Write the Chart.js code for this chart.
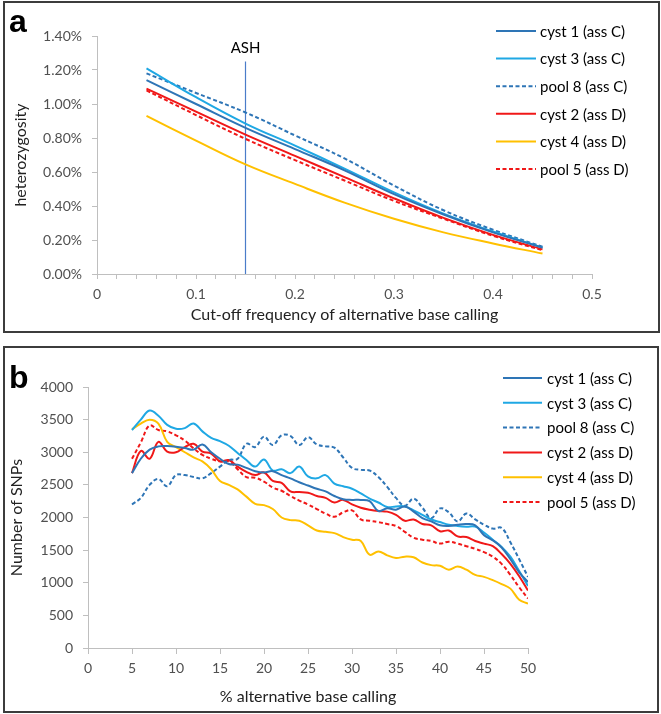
<!DOCTYPE html>
<html>
<head>
<meta charset="utf-8">
<script src="https://cdn.jsdelivr.net/npm/chart.js@4.4.0/dist/chart.umd.min.js"></script>
<style>
  body { margin: 0; background: #fff; width: 661px; height: 714px; overflow: hidden; font-family: Lato, sans-serif; }
  .panel { position: absolute; border: 2px solid #3c3c3c; box-sizing: border-box; }
  #boxA { left: 3px; top: 1px; width: 657px; height: 332px; }
  #boxB { left: 3px; top: 346px; width: 656px; height: 367px; }
  .wrap { position: absolute; left: 0; width: 661px; }
  .tag { position: absolute; font: bold 32px "Liberation Sans", Arial, sans-serif; line-height: 32px; color: #000; }
</style>
</head>
<body>
<div class="panel" id="boxA"></div>
<div class="panel" id="boxB"></div>
<div class="wrap" style="top:0;height:340px"><canvas id="chartA"></canvas></div>
<div class="wrap" style="top:340px;height:374px"><canvas id="chartB"></canvas></div>
<div class="tag" style="left:9px;top:5px">a</div>
<div class="tag" style="left:9px;top:361px">b</div>

<script>
// ---- panel a: heterozygosity vs cut-off frequency ----
const CUTOFF = [0.05, 0.1, 0.15, 0.2, 0.25, 0.3, 0.35, 0.4, 0.45];
const HET_CYST1 = [1.14, 1.00, 0.86, 0.735, 0.61, 0.47, 0.35, 0.245, 0.155];
const HET_CYST3 = [1.21, 1.04, 0.885, 0.755, 0.62, 0.48, 0.355, 0.25, 0.155];
const HET_POOL8 = [1.18, 1.065, 0.95, 0.815, 0.68, 0.52, 0.375, 0.26, 0.16];
const HET_CYST2 = [1.09, 0.955, 0.82, 0.695, 0.57, 0.445, 0.33, 0.23, 0.145];
const HET_CYST4 = [0.93, 0.785, 0.645, 0.53, 0.42, 0.325, 0.245, 0.18, 0.12];
const HET_POOL5 = [1.08, 0.935, 0.795, 0.67, 0.55, 0.43, 0.325, 0.225, 0.14];
const ASH_X = 0.15, ASH_TOP = 1.25, ASH_LABEL_Y = 1.33;

// ---- panel b: number of SNPs vs % alternative base calling ----
const ALT_PCT = [5, 6, 7, 8, 9, 10, 11, 12, 13, 14, 15, 16, 17, 18, 19, 20, 21, 22, 23, 24, 25, 26, 27,
                 28, 29, 30, 31, 32, 33, 34, 35, 36, 37, 38, 39, 40, 41, 42, 43, 44, 45, 46, 47, 48, 49, 50];
const SNP_CYST1 = [2680, 2900, 3040, 3090, 3095, 3085, 3065, 3040, 3120, 3000, 2900, 2820, 2810, 2760, 2710, 2690,
                   2710, 2650, 2600, 2540, 2490, 2440, 2400, 2330, 2280, 2270, 2270, 2250, 2100, 2140, 2120, 2170,
                   2090, 1990, 1940, 1880, 1870, 1890, 1900, 1880, 1730, 1650, 1540, 1360, 1160, 1010];
const SNP_CYST3 = [3340, 3500, 3640, 3560, 3420, 3360, 3370, 3440, 3320, 3220, 3170, 3100, 2990, 2880, 2780, 2890,
                   2720, 2740, 2680, 2780, 2630, 2600, 2650, 2520, 2480, 2440, 2370, 2290, 2230, 2160, 2170, 2170,
                   2110, 2040, 1970, 1930, 1890, 1870, 1860, 1860, 1770, 1660, 1550, 1400, 1180, 950];
const SNP_POOL8 = [2200, 2300, 2500, 2590, 2480, 2650, 2650, 2620, 2600, 2680, 2780, 2880, 2900, 3130, 3080, 3240,
                   3110, 3260, 3250, 3110, 3230, 3120, 3090, 3070, 2920, 2760, 2730, 2720, 2620, 2470, 2300, 2180,
                   2290, 2150, 1990, 2140, 2080, 1940, 2060, 1970, 1890, 1830, 1840, 1620, 1360, 1090];
const SNP_CYST2 = [2680, 3020, 2900, 3160, 3010, 3000, 3080, 3130, 3010, 2980, 2860, 2880, 2780, 2700, 2650, 2690,
                   2560, 2530, 2400, 2390, 2380, 2330, 2300, 2230, 2270, 2200, 2150, 2120, 2100, 2090, 2040, 1950,
                   1970, 1900, 1880, 1790, 1800, 1710, 1700, 1640, 1600, 1560, 1440, 1290, 1100, 880];
const SNP_CYST4 = [3350, 3440, 3500, 3440, 3160, 3080, 3000, 2920, 2860, 2740, 2560, 2500, 2430, 2320, 2210, 2190,
                   2130, 2000, 1960, 1950, 1880, 1800, 1780, 1760, 1700, 1660, 1640, 1430, 1480, 1420, 1380, 1400,
                   1390, 1310, 1270, 1260, 1200, 1250, 1200, 1120, 1090, 1040, 980, 910, 740, 680];
const SNP_POOL5 = [2900, 3150, 3410, 3340, 3320, 3260, 3180, 3060, 2960, 2900, 2860, 2860, 2740, 2620, 2610, 2550,
                   2460, 2410, 2330, 2260, 2200, 2130, 2060, 2010, 2080, 2110, 1970, 1950, 1930, 1900, 1870, 1780,
                   1690, 1660, 1640, 1600, 1630, 1600, 1560, 1520, 1470, 1400, 1290, 1120, 930, 760];

const LABELS = ['cyst 1 (ass C)', 'cyst 3 (ass C)', 'pool 8 (ass C)', 'cyst 2 (ass D)', 'cyst 4 (ass D)', 'pool 5 (ass D)'];
const COLORS = ['#2E75B6', '#1FA8E4', '#2E75B6', '#F01818', '#FFC000', '#F01818'];
const DASHED = [false, false, true, false, false, true];

const FONT = 'Lato, sans-serif';
const pts = (xs, ys) => xs.map((x, i) => ({ x, y: ys[i] }));

// legend to the right + free text labels, drawn on top of the chart
const sideLegend = {
    id: 'sideLegend',
    afterDraw(chart, args, o) {
        const ctx = chart.ctx;
        ctx.save();
        ctx.font = o.font;
        ctx.textBaseline = 'middle';
        let y = o.y;
        chart.data.datasets.forEach(ds => {
            if (!ds.label) return;
            ctx.strokeStyle = ds.borderColor;
            ctx.lineWidth = ds.borderWidth;
            ctx.setLineDash(ds.borderDash || []);
            ctx.beginPath();
            ctx.moveTo(o.x, y);
            ctx.lineTo(o.x + o.len, y);
            ctx.stroke();
            ctx.fillStyle = '#000';
            ctx.fillText(ds.label, o.x + o.len + o.gap, y + 1);
            y += o.step;
        });
        if (o.note) {
            ctx.textAlign = 'center';
            ctx.fillStyle = '#000';
            ctx.fillText(o.note.text, chart.scales.x.getPixelForValue(o.note.x), chart.scales.y.getPixelForValue(o.note.y));
        }
        ctx.restore();
    }
};

function series(xs, list) {
    return list.map((ys, i) => ({
        label: LABELS[i],
        data: pts(xs, ys),
        borderColor: COLORS[i],
        borderWidth: 2,
        borderDash: DASHED[i] ? [4, 2.5] : [],
        pointRadius: 0,
        tension: 0.4,
        fill: false
    }));
}

function axis(extra) {
    return Object.assign({
        type: 'linear',
        grid: { drawOnChartArea: false, tickLength: 5, color: '#bfbfbf' },
        border: { color: '#bfbfbf', width: 1 }
    }, extra);
}

const tickFont = { family: FONT, size: 14 };
const titleFont = { family: FONT, size: 16 };

// panel a
const dsA = series(CUTOFF, [HET_CYST1, HET_CYST3, HET_POOL8, HET_CYST2, HET_CYST4, HET_POOL5]);
dsA.push({ label: '', data: [{ x: ASH_X, y: 0 }, { x: ASH_X, y: ASH_TOP }], borderColor: '#4a7cc9', borderWidth: 1.2, pointRadius: 0 });

new Chart(document.getElementById('chartA'), {
    type: 'line',
    data: { datasets: dsA },
    plugins: [sideLegend],
    options: {
        responsive: true, maintainAspectRatio: false, animation: false,
        layout: { padding: { top: 36, right: 69, left: 0, bottom: 0 } },
        plugins: {
            legend: { display: false }, tooltip: { enabled: false },
            sideLegend: { x: 496, y: 31, step: 27.6, len: 40, gap: 4, font: '15px ' + FONT,
                          note: { text: 'ASH', x: ASH_X, y: ASH_LABEL_Y } }
        },
        scales: {
            x: axis({
                min: 0, max: 0.5,
                afterFit: s => { s.height = 66; },
                ticks: { stepSize: 0.02, autoSkip: false, maxRotation: 0, padding: 7, color: '#505050', font: tickFont,
                         callback: v => Math.abs(v * 10 - Math.round(v * 10)) < 1e-6 ? String(Math.round(v * 10) / 10) : '' },
                title: { display: true, text: 'Cut-off frequency of alternative base calling', color: '#222', font: titleFont, padding: { top: 0, bottom: 16 } }
            }),
            y: axis({
                min: 0, max: 1.4,
                afterFit: s => { s.width = 97; },
                ticks: { stepSize: 0.2, padding: 10, color: '#505050', font: tickFont, callback: v => v.toFixed(2) + '%' },
                title: { display: true, text: 'heterozygosity', color: '#222', font: titleFont, padding: { top: 11, bottom: 0 } }
            })
        }
    }
});

// panel b
new Chart(document.getElementById('chartB'), {
    type: 'line',
    data: { datasets: series(ALT_PCT, [SNP_CYST1, SNP_CYST3, SNP_POOL8, SNP_CYST2, SNP_CYST4, SNP_POOL5]) },
    plugins: [sideLegend],
    options: {
        responsive: true, maintainAspectRatio: false, animation: false,
        layout: { padding: { top: 47, right: 133, left: 0, bottom: 0 } },
        plugins: {
            legend: { display: false }, tooltip: { enabled: false },
            sideLegend: { x: 503, y: 38, step: 24.8, len: 39, gap: 5, font: '15px ' + FONT }
        },
        scales: {
            x: axis({
                min: 0, max: 50,
                afterFit: s => { s.height = 66; },
                grid: { drawOnChartArea: false, tickLength: 6, color: '#bfbfbf' },
                ticks: { stepSize: 5, autoSkip: false, maxRotation: 0, padding: 6, color: '#505050', font: tickFont },
                title: { display: true, text: '% alternative base calling', color: '#222', font: titleFont, padding: { top: 0, bottom: 8 } }
            }),
            y: axis({
                min: 0, max: 4000,
                afterFit: s => { s.width = 88; },
                ticks: { stepSize: 500, padding: 10, color: '#505050', font: tickFont, callback: v => String(v) },
                title: { display: true, text: 'Number of SNPs', color: '#222', font: titleFont, padding: { top: 7, bottom: 0 } }
            })
        }
    }
});
</script>
</body>
</html>
